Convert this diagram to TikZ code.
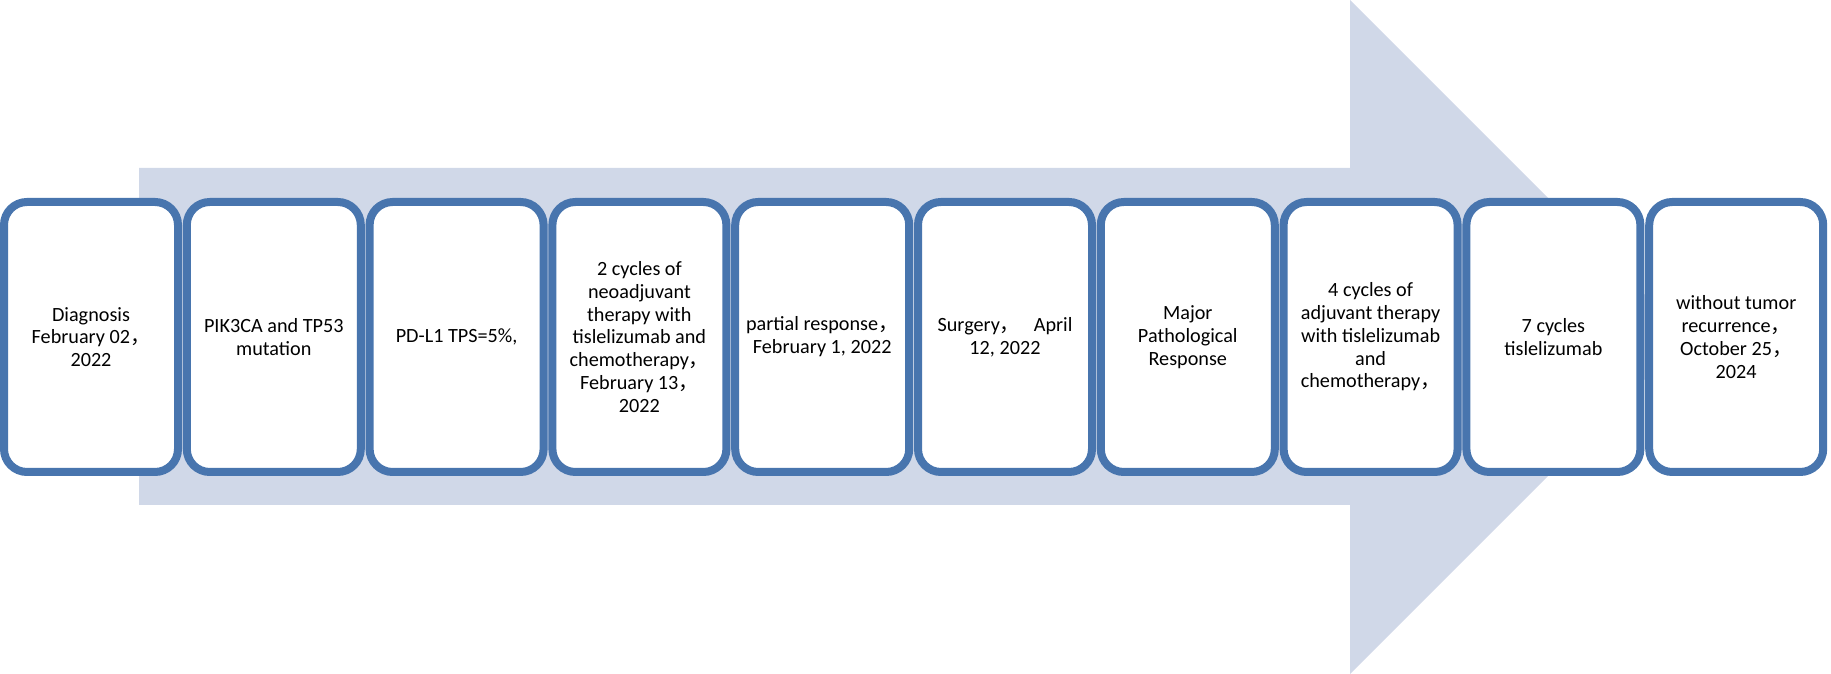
\documentclass[tikz,border=0pt]{standalone}
\usepackage{fontspec}
\setmainfont{Carlito}
\newfontfamily\cjk{Noto Sans CJK SC}
\definecolor{boxblue}{RGB}{72,117,174}
\definecolor{arrowfill}{RGB}{208,216,232}
\newcommand{\fc}{{\cjk ，}}
\begin{document}
\begin{tikzpicture}[x=1pt,y=1pt,
  stagebox/.style={draw=boxblue, line width=8pt, fill=white, rounded corners=23pt,
    minimum width=174pt, minimum height=270pt, inner sep=2pt, align=center,
    font=\fontsize{20.2}{22.8}\selectfont, text=black}]
\useasboundingbox (0,0) rectangle (1831,674);
% big background arrow
\fill[arrowfill] (139,169) -- (139,506) -- (1350,506) -- (1350,674) -- (1687,337)
  -- (1350,0) -- (1350,169) -- cycle;
\node[stagebox] (b1) at (91.0,337) {Diagnosis\\February 02\fc\\2022};
\node[stagebox] (b2) at (273.8,337) {PIK3CA and TP53\\mutation};
\node[stagebox] (b3) at (456.6,337) {PD-L1 TPS=5\%,};
\node[stagebox] (b4) at (639.4,337) {2 cycles of\\neoadjuvant\\therapy with\\tislelizumab and\\chemotherapy\fc\\February 13\fc\\2022};
\node[stagebox] (b5) at (822.2,337) {partial response\fc\\February 1, 2022};
\node[stagebox] (b6) at (1005.0,337) {Surgery\fc\ \ \ April\\12, 2022};
\node[stagebox] (b7) at (1187.8,337) {Major\\Pathological\\Response};
\node[stagebox] (b8) at (1370.6,337) {4 cycles of\\adjuvant therapy\\with tislelizumab\\and\\chemotherapy\fc};
\node[stagebox] (b9) at (1553.4,337) {7 cycles\\tislelizumab};
\node[stagebox] (b10) at (1736.2,337) {without tumor\\recurrence\fc\\October 25\fc\\2024};
\end{tikzpicture}
\end{document}
